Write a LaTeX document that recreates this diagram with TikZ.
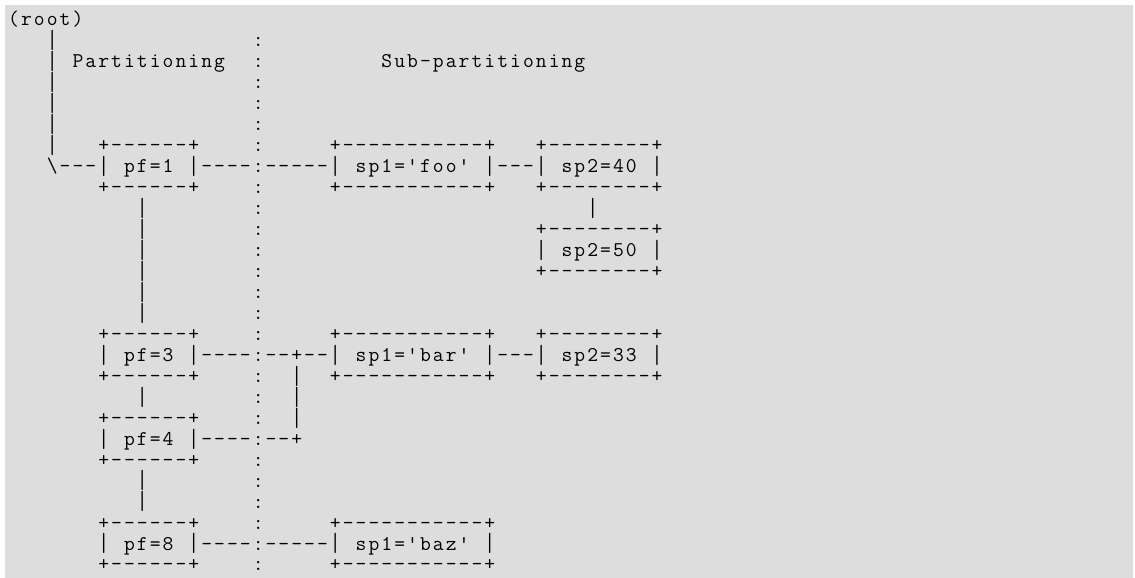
\documentclass[tikz,border=0pt]{standalone}
\usepackage{fontspec}
\usepackage{graphicx}
\newfontfamily\asciifont{Latin Modern Mono}[Ligatures=TeXOff]
\definecolor{bggray}{RGB}{221,221,221}

\makeatletter
\newlength\cellw
\setlength\cellw{12.87pt}
\def\cells@stop{\cells@stop}
\def\cells@bar{\raisebox{-1.8pt}{\resizebox*{\width}{20.5pt}{|}}}
\def\cells@glyph#1{\ifx|#1\cells@bar\else#1\fi}
\newcommand\cells[1]{\cells@next#1\cells@stop}
\def\cells@next#1{\ifx#1\cells@stop\else\makebox[\cellw][c]{\cells@glyph{#1}}\expandafter\cells@next\fi}
\makeatother

\tikzset{ascii/.style={font=\asciifont\fontsize{21pt}{25pt}\selectfont, anchor=base west, inner sep=0pt}}

\begin{document}
\begin{tikzpicture}[x=12.87pt, y=-20.96pt]
    \useasboundingbox (-7pt, 26pt) rectangle (1128pt, -552pt);
    \fill[bggray] (-2.5pt, 21pt) rectangle (1126pt, -552pt);

    \node[ascii] (root) at (0, 0) {\cells{(root)}};
    \node[ascii] (partlabel) at (5, 2) {\cells{Partitioning}};
    \node[ascii] (sublabel) at (29, 2) {\cells{Sub-partitioning}};

    \foreach \row in {1,...,26}
        \node[ascii] (colon\row) at (19, \row) {\cells{:}};
    \foreach \row in {1,...,6}
        \node[ascii] (rootline\row) at (3, \row) {\cells{|}};
    \foreach \row in {9,...,14,18,22,23}
        \node[ascii] (pfline\row) at (10, \row) {\cells{|}};

    \foreach \rtop/\pfnum in {6/1, 15/3, 19/4, 24/8} {
        \node[ascii] (pftop\pfnum) at (7, \rtop) {\cells{+------+}};
        \node[ascii] (pf\pfnum) at (7, \rtop+1) {\cells{|~pf=\pfnum~|}};
        \node[ascii] (pfbot\pfnum) at (7, \rtop+2) {\cells{+------+}};
    }

    \node[ascii] (footop) at (25, 6) {\cells{+-----------+}};
    \node[ascii] (foo) at (25, 7) {\cells{|~sp1='foo'~|}};
    \node[ascii] (foobot) at (25, 8) {\cells{+-----------+}};
    \node[ascii] (bartop) at (25, 15) {\cells{+-----------+}};
    \node[ascii] (bar) at (25, 16) {\cells{|~sp1='bar'~|}};
    \node[ascii] (barbot) at (25, 17) {\cells{+-----------+}};
    \node[ascii] (baztop) at (25, 24) {\cells{+-----------+}};
    \node[ascii] (baz) at (25, 25) {\cells{|~sp1='baz'~|}};
    \node[ascii] (bazbot) at (25, 26) {\cells{+-----------+}};

    \node[ascii] (s40top) at (41, 6) {\cells{+--------+}};
    \node[ascii] (s40) at (41, 7) {\cells{|~sp2=40~|}};
    \node[ascii] (s40bot) at (41, 8) {\cells{+--------+}};
    \node[ascii] (s50top) at (41, 10) {\cells{+--------+}};
    \node[ascii] (s50) at (41, 11) {\cells{|~sp2=50~|}};
    \node[ascii] (s50bot) at (41, 12) {\cells{+--------+}};
    \node[ascii] (s33top) at (41, 15) {\cells{+--------+}};
    \node[ascii] (s33) at (41, 16) {\cells{|~sp2=33~|}};
    \node[ascii] (s33bot) at (41, 17) {\cells{+--------+}};

    \node[ascii] (rootturn) at (3, 7) {\cells{\textbackslash---}};
    \node[ascii] (link1a) at (15, 7) {\cells{----}};
    \node[ascii] (link1b) at (20, 7) {\cells{-----}};
    \node[ascii] (linkfoo) at (38, 7) {\cells{---}};
    \node[ascii] (s40line) at (45, 9) {\cells{|}};
    \node[ascii] (link3a) at (15, 16) {\cells{----}};
    \node[ascii] (link3b) at (20, 16) {\cells{--+--}};
    \node[ascii] (linkbar) at (38, 16) {\cells{---}};
    \foreach \row in {17,18,19}
        \node[ascii] (joinline\row) at (22, \row) {\cells{|}};
    \node[ascii] (link4a) at (15, 20) {\cells{----}};
    \node[ascii] (link4b) at (20, 20) {\cells{--+}};
    \node[ascii] (link8a) at (15, 25) {\cells{----}};
    \node[ascii] (link8b) at (20, 25) {\cells{-----}};
\end{tikzpicture}
\end{document}
